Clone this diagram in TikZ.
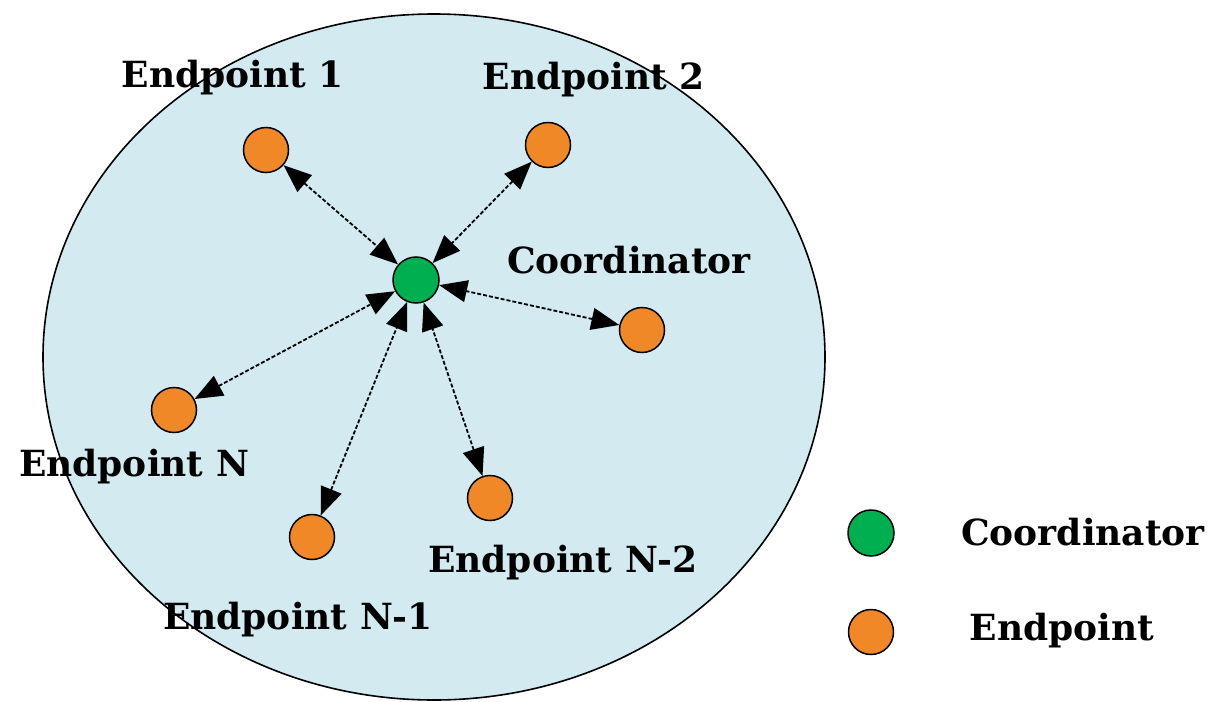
\documentclass[tikz,border=0pt]{standalone}
\usepackage{fontspec}
\setmainfont{DejaVu Serif}
\usetikzlibrary{arrows.meta,shapes.geometric}
\definecolor{bgblue}{RGB}{210,234,240}
\definecolor{epor}{RGB}{240,136,40}
\definecolor{cogreen}{RGB}{0,176,80}
\tikzset{
  ep/.style={circle,draw=black,line width=1.5pt,fill=epor,minimum size=45pt,inner sep=0pt},
  co/.style={circle,draw=black,line width=1.5pt,fill=cogreen,minimum size=46pt,inner sep=0pt},
  lbl/.style={font=\bfseries\fontsize{36}{40}\selectfont,inner sep=0pt},
  tip/.tip={Triangle[length=28pt,width=22pt]},
  link/.style={dashed,dash pattern=on 4pt off 2pt,line width=1.8pt,tip-tip}
}
\begin{document}
\begin{tikzpicture}[x=1pt,y=-1pt]
\useasboundingbox (0,0) rectangle (1225,701);
\node[ellipse,draw=black,line width=1.6pt,fill=bgblue,minimum width=782pt,minimum height=686pt,inner sep=0pt] (net) at (434,357) {};
\node[co] (c) at (416,280) {};
\node[ep] (e1) at (266,150) {};
\node[ep] (e2) at (548,145) {};
\node[ep] (e3) at (642,330) {};
\node[ep] (eN) at (174,410) {};
\node[ep] (eN1) at (312,537) {};
\node[ep] (eN2) at (490,498) {};
\draw[link] (e1) -- (c);
\draw[link] (e2) -- (c);
\draw[link] (e3) -- (c);
\draw[link] (eN) -- (c);
\draw[link] (eN1) -- (c);
\draw[link] (eN2) -- (c);
\node[lbl] (t1) at (233,78) {Endpoint 1};
\node[lbl] (t2) at (594,80) {Endpoint 2};
\node[lbl] (tc) at (629,260) {Coordinator};
\node[lbl] (tN) at (134,467) {Endpoint N};
\node[lbl] (tN2) at (563,563) {Endpoint N-2};
\node[lbl] (tN1) at (298,620) {Endpoint N-1};
\node[co] (lc) at (871,533) {};
\node[ep] (le) at (871,632) {};
\node[lbl] (ltc) at (1083,532) {Coordinator};
\node[lbl] (lte) at (1062,631) {Endpoint};
\end{tikzpicture}
\end{document}
